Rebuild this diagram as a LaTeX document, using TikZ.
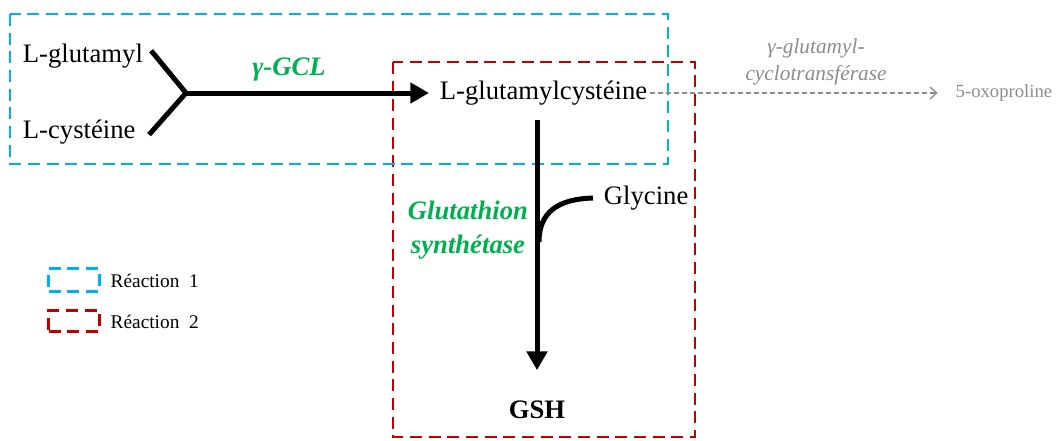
\documentclass[tikz,border=0pt]{standalone}
\usepackage{fontspec}
\setmainfont{Liberation Serif}
\usetikzlibrary{arrows.meta}
\definecolor{reacblue}{HTML}{00B0F0}
\definecolor{reacred}{HTML}{C00000}
\definecolor{enzgreen}{HTML}{00B050}
\definecolor{sidegray}{HTML}{8C8C8C}

\tikzset{
	mol/.style={font=\fontsize{20}{24}\selectfont, inner sep=2pt},
	enz/.style={text=enzgreen, font=\fontsize{20}{25.5}\selectfont\bfseries\itshape, align=center},
	side/.style={text=sidegray, font=\fontsize{14}{17}\selectfont},
	bond/.style={line width=3.75pt},
	react/.style={bond, -{Triangle[length=14pt,width=15pt]}},
	reacbox/.style={dash pattern=on 9pt off 5pt, line width=2.2pt},
	legend/.style={font=\fontsize{14.5}{17}\selectfont, anchor=west}
}

\begin{document}
\begin{tikzpicture}[x=0.75pt,y=-0.75pt]
	\useasboundingbox (0,0) rectangle (1060,440);
	
	% reaction boxes
	\draw [reacbox, reacred] (393,62) rectangle (695,437);
	\draw [reacbox, reacblue] (10,14) rectangle (668,164);
	
	% molecules
	\node [mol, anchor=west] (glu) at (20,56) {L-glutamyl};
	\node [mol, anchor=west] (cys) at (20,132) {L-cystéine};
	\node [mol, anchor=west] (gc) at (437,93) {L-glutamylcystéine};
	\node [mol, anchor=west] (gly) at (601,198) {Glycine};
	\node [mol, font=\fontsize{20}{24}\selectfont\bfseries] (gsh) at (537,410) {GSH};
	\node [side, anchor=west] (oxo) at (951,93) {5-oxoproline};
	
	% enzymes
	\node [enz] (gcl) at (289,70) {γ-GCL};
	\node [enz] (gs) at (468,230) {Glutathion\\synthétase};
	\node [side, font=\fontsize{16}{20}\selectfont\itshape, align=center] (cyclo) at (816,62) {γ-glutamyl-\\cyclotransférase};
	
	% reaction 1
	\coordinate (join) at (186,93);
	\draw [bond] ([xshift=4pt,yshift=4pt]glu.east) -- (join) -- ([xshift=8pt,yshift=-2pt]cys.east);
	\draw [react, shorten >=6pt] (join) -- (gc.west);
	\draw [sidegray, line width=1pt, dash pattern=on 3.5pt off 2.5pt, -{Straight Barb[length=5pt,width=9pt]}, shorten >=10pt] (gc.east) -- (oxo.west);
	
	% reaction 2
	\coordinate (gcbot) at (537,120);
	\coordinate (glyin) at (539,242);
	\draw [react, shorten >=21pt] (gcbot) -- (gsh.north);
	\draw [bond] (glyin) .. controls (539,212) and (558,199) .. ([xshift=-6pt]gly.west);
	
	% legend
	\node [reacbox, draw=reacblue, minimum width=38pt, minimum height=17pt, inner sep=0pt] (key1) at (74,280) {};
	\node [legend] (lab1) at (106,281) {Réaction\ \ 1};
	\node [reacbox, draw=reacred, minimum width=38pt, minimum height=16pt, inner sep=0pt] (key2) at (74,321) {};
	\node [legend] (lab2) at (106,322) {Réaction\ \ 2};
\end{tikzpicture}
\end{document}
